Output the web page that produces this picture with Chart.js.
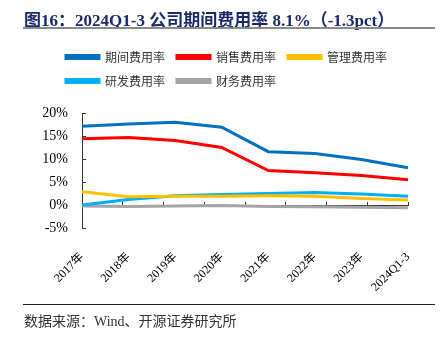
<!DOCTYPE html>
<html>
<head>
<meta charset="utf-8">
<script src="https://cdn.jsdelivr.net/npm/chart.js@4"></script>
<style>
  body { margin: 0; background: #fff; }
  #wrap { position: relative; width: 446px; height: 341px; overflow: hidden; }
  #title { position: absolute; left: 24px; top: 6px; font: bold 17px "Liberation Serif", "Noto Sans CJK SC", serif; color: #1b2a6b; white-space: nowrap; }
  #tline { position: absolute; left: 23px; top: 27px; width: 412px; height: 2px; background: #8a8a8a; }
  #bline { position: absolute; left: 23px; top: 304px; width: 412px; height: 1px; background: #222; }
  #source { position: absolute; left: 24px; top: 310px; font: 14px "Liberation Serif", "Noto Sans CJK SC", serif; color: #333; white-space: nowrap; }
  canvas { position: absolute; left: 0; top: 0; }
</style>
</head>
<body>
<div id="wrap">
  <canvas id="myChart" width="446" height="341"></canvas>
  <div id="title">图16：2024Q1-3 公司期间费用率 8.1%（-1.3pct）</div>
  <div id="tline"></div>
  <div id="bline"></div>
  <div id="source">数据来源：Wind、开源证券研究所</div>
</div>
<script>
const labels = ['2017年', '2018年', '2019年', '2020年', '2021年', '2022年', '2023年', '2024Q1-3'];
const seriesNames = ['期间费用率', '销售费用率', '管理费用率', '研发费用率', '财务费用率'];
const periodRate = [17.1, 17.6, 18.0, 16.9, 11.6, 11.2, 9.9, 8.1];
const salesRate = [14.4, 14.7, 14.0, 12.5, 7.5, 7.0, 6.4, 5.5];
const adminRate = [2.9, 1.8, 1.9, 1.9, 2.0, 1.9, 1.4, 1.1];
const rdRate = [0.0, 1.2, 2.0, 2.3, 2.5, 2.7, 2.4, 1.9];
const financeRate = [-0.2, -0.3, -0.2, -0.1, -0.3, -0.4, -0.5, -0.6];
const colors = ['#0070C0', '#FF0000', '#FFC000', '#00B0F0', '#A5A5A5'];

const serif = '"Liberation Serif", "Noto Sans CJK SC", serif';

// legend: extra gap under it, and shifted right to line up with the plot
const legendTweak = {
    id: 'legendTweak',
    beforeLayout(chart) {
        const lg = chart.legend;
        if (lg && !lg._gapPatched) {
            const fit = lg.fit;
            lg.fit = function () {
                fit.call(this);
                this.height += 16;
            };
            lg._gapPatched = true;
        }
    },
    afterLayout(chart) {
        chart.legend.left += 24;
        chart.legend.right += 24;
    }
};

function makeSet(i, data) {
    return {
        label: seriesNames[i],
        data: data,
        borderColor: colors[i],
        backgroundColor: colors[i],
        borderWidth: 3,
        pointRadius: 0,
        tension: 0
    };
}

const ctx = document.getElementById('myChart').getContext('2d');
const myChart = new Chart(ctx, {
    type: 'line',
    data: {
        labels: labels,
        datasets: [
            makeSet(0, periodRate),
            makeSet(1, salesRate),
            makeSet(2, adminRate),
            makeSet(3, rdRate),
            makeSet(4, financeRate)
        ]
    },
    options: {
        responsive: false,
        animation: false,
        layout: { padding: { left: 30, right: 38, top: 39, bottom: 33 } },
        plugins: {
            tooltip: { enabled: false },
            legend: {
                position: 'top',
                align: 'start',
                labels: {
                    boxWidth: 33,
                    boxHeight: 3,
                    padding: 12,
                    color: '#333',
                    font: { size: 12, family: '"Noto Sans CJK SC", sans-serif' }
                }
            }
        },
        scales: {
            x: {
                grid: { display: false },
                border: { display: false },
                afterFit: (s) => { s.height = 80; },
                ticks: {
                    minRotation: 45,
                    maxRotation: 45,
                    autoSkip: false,
                    padding: 14,
                    color: '#000',
                    font: { size: 12, family: serif }
                }
            },
            x0: {
                type: 'category',
                labels: labels,
                position: { y: 0 },
                offset: true,
                grid: { drawOnChartArea: false, offset: true, tickLength: -4, color: '#333' },
                border: { color: '#333', width: 1 },
                ticks: { display: false }
            },
            y: {
                min: -5,
                max: 20,
                afterFit: (s) => { s.width = 52; },
                grid: { drawOnChartArea: false, tickLength: -4, color: '#333' },
                border: { color: '#333', width: 1 },
                ticks: {
                    stepSize: 5,
                    padding: 18,
                    color: '#000',
                    font: { size: 14, family: serif },
                    callback: (v) => v + '%'
                }
            }
        }
    },
    plugins: [legendTweak]
});
</script>
</body>
</html>
